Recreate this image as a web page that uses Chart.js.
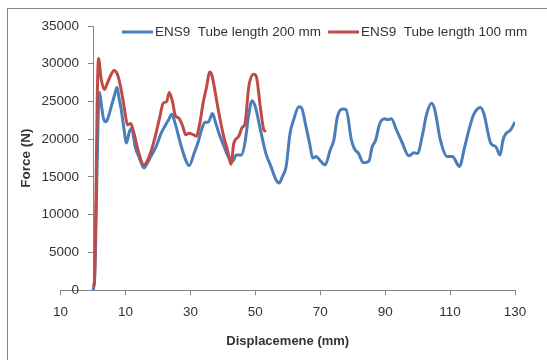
<!DOCTYPE html>
<html lang="en">
  <head>
    <meta charset="UTF-8" />
    <title>ENS9 force-displacement</title>
    <script src="https://cdn.jsdelivr.net/npm/chart.js"></script>
    <style>
      body { margin: 0; background: #fff; }
      .frame {
        position: absolute; left: 7px; top: 8px; width: 600px; height: 400px;
        border: 1px solid #868686;
      }
      .chart-box { position: absolute; left: 0; top: 0; width: 547px; height: 360px; }
    </style>
  </head>
  <body>
    <div class="frame"></div>
    <div class="chart-box">
      <canvas id="chart_force"></canvas>
    </div>
  </body>
</html>

<script>
  // tube length 200 mm (blue)
  const blueX = [0, 0.2, 0.5, 0.8, 1.2, 1.6, 2.0, 2.6, 3.2, 4.0, 4.9, 5.8, 6.6, 7.4, 8.0, 8.7, 9.5, 10.3, 11.2, 11.9, 13.0, 14.3,
    15.7, 16.8, 17.8, 19.4, 21.0, 22.1, 23.2, 24.3, 25.3, 26.9, 28.5, 29.6, 31.2, 32.3, 33.4, 34.5, 35.5, 36.8, 37.7,
    38.8, 40.4, 41.4, 43.1, 44.1, 45.7, 46.8, 47.9, 49.0, 50.0, 51.6, 53.2, 54.8, 56.4, 57.3, 58.4, 59.5, 60.7, 61.8,
    63.4, 64.2, 65.6, 66.7, 67.7, 68.8, 69.9, 71.5, 73.1, 74.2, 75.3, 76.9, 78.0, 79.6, 80.7, 81.7, 83.3, 85.0, 86.0,
    87.1, 88.2, 89.8, 90.8, 91.9, 93.5, 95.1, 97.3, 98.9, 99.9, 101.6, 102.7, 104.3, 105.3, 107.0, 109.1, 110.7, 112.9,
    114.5, 116.1, 117.2, 119.3, 120.4, 122.5, 124.1, 125.4, 126.3, 127.3, 128.6, 130.0];
  const blueY = [0, 300, 1500, 6000, 15000, 23000, 26200, 24500, 22800, 22300, 23200, 24600, 25800, 26900, 25500, 23900,
    21500, 19500, 21000, 21450, 19000, 17500, 16200, 16900, 17700, 19000, 20800, 21700, 22500, 23300, 22100, 19500,
    17300, 16500, 18200, 19500, 21200, 22250, 22250, 23400, 22300, 20800, 19000, 17900, 17100, 17900, 17900, 19500,
    23000, 25100, 24300, 21200, 18200, 16400, 14600, 14200, 15100, 16400, 20800, 22560, 24300, 24200, 21700, 19500,
    17500, 17700, 17200, 16600, 18600, 19900, 23000, 24000, 23900, 19900, 18600, 18200, 16900, 17100, 19000, 19900,
    21900, 22700, 22600, 22700, 21200, 19700, 17800, 18200, 18100, 20800, 23200, 24750, 23900, 19900, 17700, 17700,
    16400, 19000, 21700, 23200, 24200, 23400, 19500, 19000, 17900, 19900, 20800, 21200, 22300];

  // tube length 100 mm (red)
  const redX = [-0.2, 0.4, 0.9, 1.3, 1.7, 2.5, 3.5, 4.4, 5.5, 6.5, 7.6, 8.7, 9.8, 10.6, 11.6, 12.5, 14.1, 15.7, 17.3, 18.9,
    20.5, 21.6, 22.7, 23.5, 24.6, 25.3, 26.4, 27.5, 28.6, 29.6, 30.9, 31.8, 32.9, 33.9, 35.0, 35.9, 36.6, 37.7, 38.8,
    40.4, 41.4, 42.5, 43.4, 44.9, 46.0, 46.8, 48.0, 49.5, 50.3, 51.6, 52.6, 53.3];
  const redY = [600, 800, 12000, 25200, 30700, 28000, 26600, 27400, 28500, 29100, 28500, 26500, 23700, 21900, 22100, 21000,
    18200, 16600, 17700, 19900, 22800, 24750, 25000, 26200, 24750, 23200, 22800, 21900, 20600, 20800, 20600, 20400,
    22100, 24750, 26950, 28900, 28500, 26100, 23400, 20100, 18600, 16700, 19500, 20400, 21600, 22000, 27000, 28600,
    28300, 24100, 21300, 21000];

  const seriesLabels = ['ENS9  Tube length 200 mm', 'ENS9  Tube length 100 mm'];
  const xTickLabels = ['10', '10', '30', '50', '70', '90', '110', '130'];

  const axisColor = '#868686';
  const textColor = '#333333';
  const fontName = '"Liberation Sans", Arial, sans-serif';

  function toPoints(xs, ys) {
    return xs.map((x, i) => ({ x: x, y: ys[i] }));
  }

  // y axis crosses at x = 0, like the excel chart
  const crossPlugin = {
    id: 'cross',
    afterLayout(chart) {
      const ys = chart.scales.y;
      const shift = chart.scales.x.getPixelForValue(0) - ys.right;
      ys.left += shift;
      ys.right += shift;
    },
  };

  // legend inside the plot, plus the rotated y title
  const overlayPlugin = {
    id: 'overlay',
    afterDraw(chart) {
      const ctx = chart.ctx;
      const area = chart.chartArea;
      ctx.save();
      ctx.font = '13.5px ' + fontName;
      ctx.textBaseline = 'middle';
      ctx.fillStyle = textColor;
      let x = 122;
      const y = 32;
      chart.data.datasets.forEach((ds) => {
        ctx.strokeStyle = ds.borderColor;
        ctx.lineWidth = 3;
        ctx.beginPath();
        ctx.moveTo(x, y);
        ctx.lineTo(x + 31, y);
        ctx.stroke();
        x += 33;
        ctx.fillText(ds.label, x, y);
        x += ctx.measureText(ds.label).width + 7;
      });

      ctx.font = 'bold 13.5px ' + fontName;
      ctx.textAlign = 'center';
      ctx.translate(26, (area.top + area.bottom) / 2);
      ctx.rotate(-Math.PI / 2);
      ctx.fillText('Force (N)', 0, 0);
      ctx.restore();
    },
  };

  new Chart(document.getElementById('chart_force'), {
    type: 'line',
    data: {
      datasets: [
        {
          label: seriesLabels[0],
          data: toPoints(blueX, blueY),
          borderColor: '#4a7ebb',
          borderWidth: 3,
          pointRadius: 0,
          cubicInterpolationMode: 'monotone',
          order: 1,
        },
        {
          label: seriesLabels[1],
          data: toPoints(redX, redY),
          borderColor: '#be4b48',
          borderWidth: 3,
          pointRadius: 0,
          cubicInterpolationMode: 'monotone',
          order: 0,
        },
      ],
    },
    options: {
      responsive: true,
      maintainAspectRatio: false,
      animation: false,
      layout: { padding: { left: 0, right: 32, top: 26, bottom: 11 } },
      plugins: {
        legend: { display: false },
        tooltip: { enabled: false },
      },
      scales: {
        x: {
          type: 'linear',
          min: -10,
          max: 130,
          ticks: {
            stepSize: 20,
            padding: 9,
            color: textColor,
            font: { family: fontName, size: 13.5 },
            callback: (value, index) => xTickLabels[index],
          },
          grid: { drawOnChartArea: false, tickLength: 5, color: axisColor },
          border: { color: axisColor },
          title: {
            display: true,
            text: 'Displacemene (mm)',
            color: textColor,
            font: { family: fontName, size: 13, weight: 'bold' },
            padding: { top: 4, bottom: 0 },
          },
        },
        y: {
          position: 'left',
          min: 0,
          max: 35000,
          ticks: {
            stepSize: 5000,
            padding: 9,
            color: textColor,
            font: { family: fontName, size: 13.5 },
            callback: (value) => String(value),
          },
          grid: { drawOnChartArea: false, tickLength: 5, color: axisColor },
          border: { color: axisColor },
        },
      },
    },
    plugins: [crossPlugin, overlayPlugin],
  });
</script>
